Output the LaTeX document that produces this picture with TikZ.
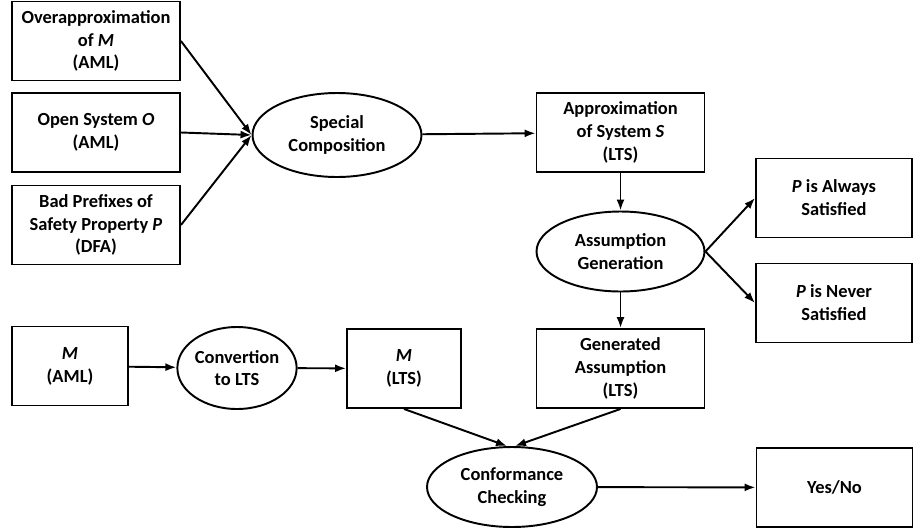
\documentclass[tikz,border=0pt]{standalone}
\usepackage{fontspec}
\setmainfont{Carlito}
\usetikzlibrary{shapes, positioning, arrows.meta}

\begin{document}
\begin{tikzpicture}[
    x=0.02cm, y=-0.02cm,
    >={Latex[length=2.2mm,width=1.6mm]},
    line width=1.1pt,
    font=\fontsize{10.5}{13}\selectfont\bfseries,
    stepBox/.style={draw, rectangle, align=center, inner sep=0pt, minimum width=3.36cm, minimum height=1.58cm},
    smallBox/.style={stepBox, minimum width=2.3cm},
    resultBox/.style={stepBox, minimum width=3.12cm},
    procEll/.style={draw, ellipse, align=center, inner sep=0pt, minimum width=3.36cm, minimum height=1.6cm},
  ]
  \useasboundingbox (0,0) rectangle (915,531);
  % inputs
  \node[stepBox] (overM) at (96,41) {Overapproximation\\of \textit{M}\\(AML)};
  \node[stepBox] (openO) at (96,132.5) {Open System \textit{O}\\(AML)};
  \node[stepBox] (badP) at (96,225) {Bad Prefixes of\\Safety Property \textit{P}\\(DFA)};
  \node[procEll, minimum width=3.38cm, minimum height=1.68cm] (specComp) at (337,135) {Special\\Composition};
  \node[stepBox] (approxS) at (620.5,132.5) {Approximation\\of System \textit{S}\\(LTS)};
  \node[procEll] (assumGen) at (620.5,251.5) {Assumption\\Generation};
  \node[resultBox] (alwaysP) at (834,198) {\textit{P} is Always\\Satisfied};
  \node[resultBox] (neverP) at (834,303) {\textit{P} is Never\\Satisfied};
  \node[stepBox] (genAssum) at (620.5,368.5) {Generated\\Assumption\\(LTS)};
  % lower row
  \node[smallBox, minimum width=2.32cm] (mAML) at (70,366) {\textit{M}\\(AML)};
  \node[procEll, minimum width=2.28cm, minimum height=1.64cm] (convLTS) at (237,368) {Convertion\\to LTS};
  \node[smallBox, minimum width=2.28cm] (mLTS) at (404,368.5) {\textit{M}\\(LTS)};
  \node[procEll, minimum width=3.4cm] (confCheck) at (512,487) {Conformance\\Checking};
  \node[resultBox] (yesNo) at (834.5,487.5) {Yes/No};
  % arrows
  \draw[->] (overM.east) -- (specComp.west);
  \draw[->] (openO.east) -- (specComp.west);
  \draw[->] (badP.east) -- (specComp.west);
  \draw[->] (specComp) -- (approxS);
  \draw[->] (approxS) -- (assumGen);
  \draw[->] (assumGen.east) -- (alwaysP.west);
  \draw[->] (assumGen.east) -- (neverP.west);
  \draw[->] (assumGen) -- (genAssum);
  \draw[->] (mAML) -- (convLTS);
  \draw[->] (convLTS) -- (mLTS);
  \draw[->] (mLTS.south) -- ([xshift=-0.1cm]confCheck.north);
  \draw[->] (genAssum.south) -- ([xshift=0.06cm]confCheck.north);
  \draw[->] (confCheck) -- (yesNo);
\end{tikzpicture}
\end{document}
